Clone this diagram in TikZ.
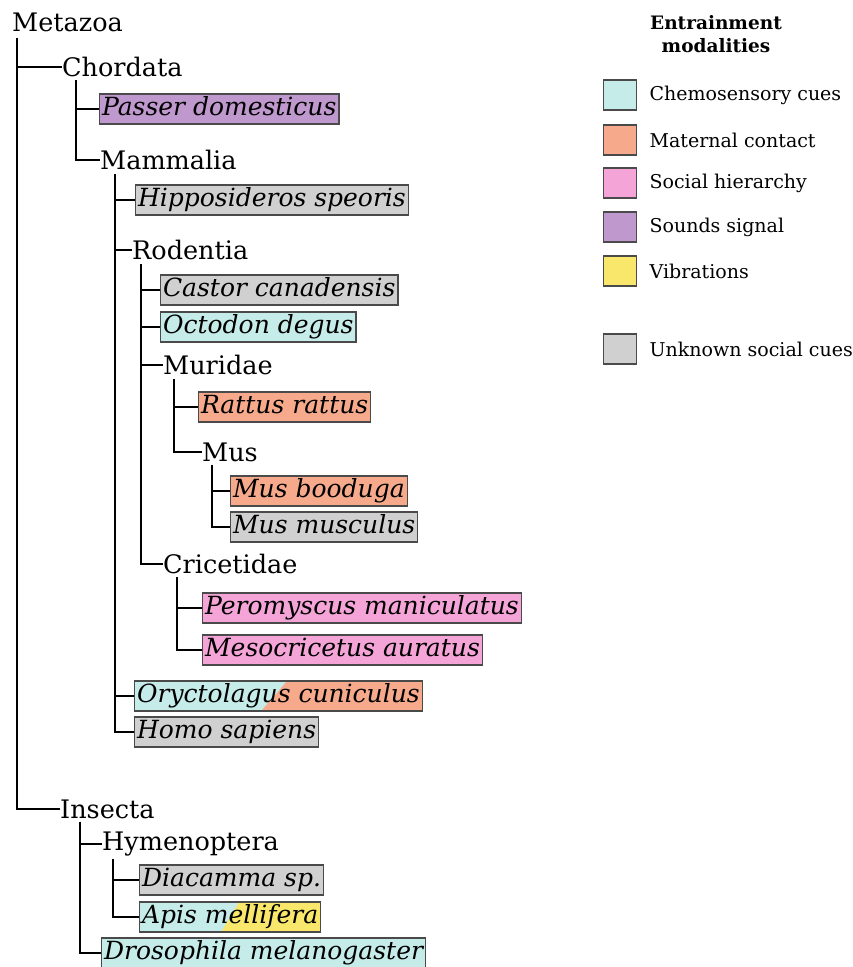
\documentclass[tikz,border=0pt]{standalone}
\usepackage{fontspec}
\setmainfont{DejaVu Serif}
\usetikzlibrary{positioning,calc}

\definecolor{chem}{HTML}{C6ECEA}
\definecolor{mat}{HTML}{F6AA8B}
\definecolor{soc}{HTML}{F5A4D7}
\definecolor{snd}{HTML}{BF98CD}
\definecolor{vib}{HTML}{F9E76B}
\definecolor{unk}{HTML}{D0D0D0}
\definecolor{edge}{HTML}{4A4A4A}

\tikzset{
  taxon/.style={anchor=west,inner sep=0pt,font=\fontsize{25.5}{30}\selectfont},
  sp/.style={anchor=west,draw=edge,line width=1.2pt,inner xsep=2.5pt,inner ysep=2.5pt,
    text height=19pt,text depth=6pt,font=\itshape\fontsize{25}{30}\selectfont},
  tree/.style={line width=2.4pt,black},
  split/.style n args={4}{path picture={
    \fill[#1] (path picture bounding box.south west) rectangle (path picture bounding box.north east);
    \fill[#2] ($(path picture bounding box.north west)!#3!(path picture bounding box.north east)$)
      -- (path picture bounding box.north east) -- (path picture bounding box.south east)
      -- ($(path picture bounding box.south west)!#4!(path picture bounding box.south east)$) -- cycle;}},
  keybox/.style={draw=edge,line width=1.2pt,minimum width=33pt,minimum height=30pt,inner sep=0pt},
  keytxt/.style={font=\fontsize{19}{23}\selectfont,anchor=west}
}

\begin{document}
\begin{tikzpicture}[x=1pt,y=-1pt]
  \useasboundingbox (0,0) rectangle (853,967);

  % tree
  \node[taxon] (met) at (12,22) {Metazoa};
  \node[taxon] (cho) at (62,67) {Chordata};
  \node[sp,fill=snd] (pas) at (99,109) {Passer domesticus};
  \node[taxon] (mam) at (100,160) {Mammalia};
  \node[sp,fill=unk] (hip) at (135,200) {Hipposideros speoris};
  \node[taxon] (rod) at (132,250) {Rodentia};
  \node[sp,fill=unk] (cas) at (160,290) {Castor canadensis};
  \node[sp,fill=chem] (oct) at (160,327) {Octodon degus};
  \node[taxon] (mur) at (163,365) {Muridae};
  \node[sp,fill=mat] (rat) at (198,407) {Rattus rattus};
  \node[taxon] (mus) at (202,452) {Mus};
  \node[sp,fill=mat] (boo) at (230,491) {Mus booduga};
  \node[sp,fill=unk] (mmu) at (230,527) {Mus musculus};
  \node[taxon] (cri) at (163,564) {Cricetidae};
  \node[sp,fill=soc] (per) at (202,608) {Peromyscus maniculatus};
  \node[sp,fill=soc] (mes) at (202,650) {Mesocricetus auratus};
  \node[sp,split={chem}{mat}{0.53}{0.44}] (ory) at (134,696) {Oryctolagus cuniculus};
  \node[sp,fill=unk] (hom) at (134,732) {Homo sapiens};
  \node[taxon] (ins) at (60,809) {Insecta};
  \node[taxon] (hym) at (102,844) {Hymenoptera};
  \node[sp,fill=unk] (dia) at (139,880) {Diacamma sp.};
  \node[sp,split={chem}{vib}{0.55}{0.45}] (api) at (139,917) {Apis mellifera};
  \node[sp,fill=chem] (dro) at (101,953) {Drosophila melanogaster};

  \foreach \c in {cho,ins}
    \draw[tree] ([xshift=5pt,yshift=-6pt]met.south west) |- (\c.west);
  \foreach \c in {pas,mam}
    \draw[tree] ([xshift=14pt,yshift=-3pt]cho.south west) |- (\c.west);
  \foreach \c in {hip,rod,ory,hom}
    \draw[tree] ([xshift=15pt,yshift=-4pt]mam.south west) |- (\c.west);
  \foreach \c in {cas,oct,mur,cri}
    \draw[tree] ([xshift=9pt,yshift=-4pt]rod.south west) |- (\c.west);
  \foreach \c in {rat,mus}
    \draw[tree] ([xshift=11pt,yshift=-4pt]mur.south west) |- (\c.west);
  \foreach \c in {boo,mmu}
    \draw[tree] ([xshift=10pt,yshift=-3pt]mus.south west) |- (\c.west);
  \foreach \c in {per,mes}
    \draw[tree] ([xshift=14pt,yshift=-3pt]cri.south west) |- (\c.west);
  \foreach \c in {hym,dro}
    \draw[tree] ([xshift=20pt,yshift=-3pt]ins.south west) |- (\c.west);
  \foreach \c in {dia,api}
    \draw[tree] ([xshift=11pt,yshift=-3pt]hym.south west) |- (\c.west);

  % legend
  \node[font=\bfseries\fontsize{18.5}{23}\selectfont,align=center] (ttl) at (716,34) {Entrainment\\modalities};
  \foreach \col/\txt/\y [count=\i] in {chem/Chemosensory cues/95,mat/Maternal contact/140,
      soc/Social hierarchy/183,snd/Sounds signal/227,vib/Vibrations/271,unk/Unknown social cues/349}
  {
    \node[keybox,fill=\col] (key\i) at (620,\y) {};
    \node[keytxt,right=9pt of key\i] (lab\i) {\txt};
  }
\end{tikzpicture}
\end{document}
